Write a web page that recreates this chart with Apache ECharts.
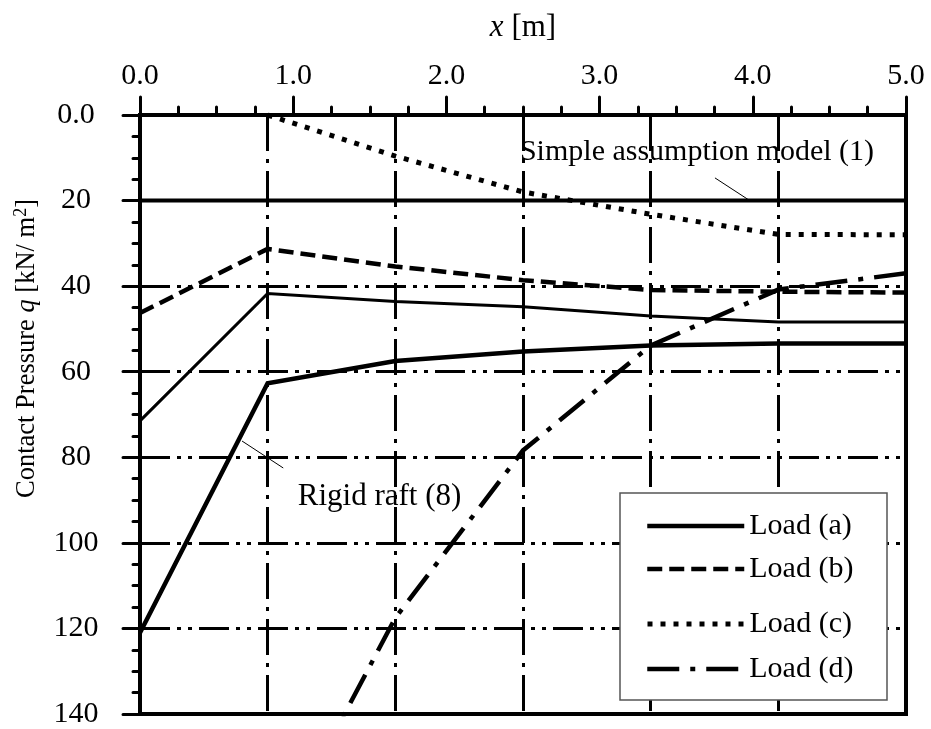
<!DOCTYPE html>
<html><head><meta charset="utf-8">
<script src="https://cdn.jsdelivr.net/npm/echarts@6/dist/echarts.min.js"></script>
<style>html,body{margin:0;padding:0;background:#fff}#c{width:931px;height:729px}</style>
</head><body><div id="c"></div>
<script>
// ---- data ----
const xPositions   = [0, 0.833, 1.667, 2.5, 3.333, 4.167, 5];
const loadA        = [71.5, 41.7, 43.6, 44.8, 47.0, 48.4, 48.4];
const rigidRaftA   = [121, 62.7, 57.5, 55.3, 53.9, 53.4, 53.4];
const loadB        = [46.3, 31.3, 35.4, 38.6, 40.9, 41.3, 41.5];
const loadC        = [null, 0, 9.6, 18.0, 23.2, 27.9, 28.0];
const loadD        = [null, 174, 117.5, 78.4, 53.9, 40.8, 37.0];
const simpleModel  = [20, 20, 20, 20, 20, 20, 20];
const legendNames  = ['Load (a)', 'Load (b)', 'Load (c)', 'Load (d)'];
const xTickLabels  = ['0.0', '1.0', '2.0', '3.0', '4.0', '5.0'];
const yTickLabels  = ['0.0', '20', '40', '60', '80', '100', '120', '140'];

const FONT = 'Liberation Serif';
const pair = arr => xPositions.map((x, i) => [x, arr[i]]);

const chart = echarts.init(document.getElementById('c'), null, {renderer: 'canvas'});

const styles = {
  'Load (a)': {width: 3},
  'Load (b)': {width: 4.5, type: [15, 7]},
  'Load (c)': {width: 5, type: [5, 8]},
  'Load (d)': {width: 4.5, type: [32, 11, 5, 11]}
};
const legendStyles = {
  'Load (a)': {width: 4.5, type: 'solid'},
  'Load (b)': {width: 4.5, type: [15, 7]},
  'Load (c)': {width: 5, type: [5, 8]},
  'Load (d)': {width: 4.5, type: [32, 11, 5, 11]}
};

function lineSeries(name, arr, lineStyle, z) {
  return {
    name: name, type: 'line', data: pair(arr), symbol: 'none',
    xAxisIndex: 0, yAxisIndex: 0, clip: true, z: z || 3,
    lineStyle: Object.assign({color: '#000', cap: 'butt', join: 'miter'}, lineStyle),
    itemStyle: {color: '#000'}, emphasis: {disabled: true}, animation: false
  };
}

const legendCenters = [526, 569, 624, 669];
const legends = legendNames.map((n, i) => ({
  data: [n], left: 640, top: legendCenters[i] - 20, orient: 'vertical',
  itemWidth: 97, itemHeight: 30, itemGap: 0, z: 6, padding: 5,
  selectedMode: false,
  itemStyle: {opacity: 0, borderWidth: 0},
  lineStyle: Object.assign({color: '#000', cap: 'butt', opacity: 1}, legendStyles[n]),
  textStyle: {fontFamily: FONT, fontSize: 30, color: '#000', lineHeight: 30}
}));

const option = {
  backgroundColor: '#fff',
  animation: false,
  grid: {left: 140, right: 25, top: 115, bottom: 4, show: true, borderColor: '#000', borderWidth: 4, backgroundColor: 'transparent'},
  legend: legends,
  xAxis: [{
    type: 'value', position: 'top', min: 0, max: 5, interval: 1,
    name: '{i|x}{n| [m]}', nameLocation: 'middle', nameGap: 72,
    nameTextStyle: {fontFamily: FONT, fontSize: 31, color: '#000',
      rich: {i: {fontFamily: FONT, fontSize: 31, fontStyle: 'italic', color: '#000'},
             n: {fontFamily: FONT, fontSize: 31, color: '#000'}}},
    axisLine: {show: true, lineStyle: {color: '#000', width: 4}},
    axisTick: {show: true, length: 18, lineStyle: {color: '#000', width: 3, cap: 'round'}},
    minorTick: {show: true, splitNumber: 4, length: 8, lineStyle: {color: '#000', width: 3, cap: 'round'}},
    axisLabel: {fontFamily: FONT, fontSize: 30, color: '#000', margin: 24,
      formatter: v => xTickLabels[Math.round(v)]},
    splitLine: {show: false}
  }, {
    type: 'value', position: 'top', min: 0, max: 5, interval: 5 / 6,
    axisLine: {show: false}, axisTick: {show: false}, axisLabel: {show: false},
    splitLine: {show: true, lineStyle: {color: '#000', width: 3, type: [36, 8, 4, 8]}}
  }],
  yAxis: {
    type: 'value', inverse: true, min: 0, max: 140, interval: 20,
    name: '{n|Contact Pressure }{i|q}{n| [kN/ m}{s|2}{n|]}',
    nameLocation: 'middle', nameGap: 98,
    nameTextStyle: {fontFamily: FONT, fontSize: 26.5, color: '#000', padding: [0, 0, 0, 132],
      rich: {n: {fontFamily: FONT, fontSize: 26.5, color: '#000'},
             i: {fontFamily: FONT, fontSize: 26.5, fontStyle: 'italic', color: '#000'},
             s: {fontFamily: FONT, fontSize: 18, color: '#000', padding: [0, 0, 12, 0]}}},
    axisLine: {show: true, lineStyle: {color: '#000', width: 4}},
    axisTick: {show: true, length: 17, lineStyle: {color: '#000', width: 3, cap: 'round'}},
    minorTick: {show: true, splitNumber: 4, length: 7, lineStyle: {color: '#000', width: 3, cap: 'round'}},
    axisLabel: {fontFamily: FONT, fontSize: 30, color: '#000', margin: 64, align: 'center',
      formatter: v => yTickLabels[Math.round(v / 20)]},
    splitLine: {show: true, lineStyle: {color: '#000', width: 3, type: [30, 7, 4, 7, 4, 7]}}
  },
  series: [
    lineSeries('Simple assumption model (1)', simpleModel, {width: 4}),
    lineSeries('Load (a)', loadA, styles['Load (a)']),
    lineSeries('Rigid raft (8)', rigidRaftA, {width: 4.5}),
    lineSeries('Load (b)', loadB, styles['Load (b)']),
    lineSeries('Load (c)', loadC, styles['Load (c)']),
    lineSeries('Load (d)', loadD, styles['Load (d)'])
  ]
};
chart.setOption(option);

// annotations anchored in data space
const P = (x, y) => chart.convertToPixel({xAxisIndex: 0, yAxisIndex: 0}, [x, y]);
const sTxt = P(2.48, 8.7), sA = P(3.753, 14.7), sB = P(3.98, 20);
const rTxt = P(1.03, 89.3), rA = P(0.666, 76.2), rB = P(0.935, 82.5);
chart.setOption({
  graphic: [
    {type: 'rect', z: 5, shape: {x: 620, y: 493, width: 267, height: 207},
     style: {fill: '#fff', stroke: '#555', lineWidth: 1.5}},
    {type: 'text', z: 5, x: sTxt[0], y: sTxt[1],
     style: {text: 'Simple assumption model (1)', font: '30px "Liberation Serif"', fill: '#000', verticalAlign: 'middle', align: 'left'}},
    {type: 'line', z: 5, shape: {x1: sA[0], y1: sA[1], x2: sB[0], y2: sB[1]}, style: {stroke: '#000', lineWidth: 1}},
    {type: 'text', z: 5, x: rTxt[0], y: rTxt[1],
     style: {text: 'Rigid raft (8)', font: '31px "Liberation Serif"', fill: '#000', verticalAlign: 'middle', align: 'left'}},
    {type: 'line', z: 5, shape: {x1: rA[0], y1: rA[1], x2: rB[0], y2: rB[1]}, style: {stroke: '#000', lineWidth: 1}}
  ]
});
</script></body></html>
